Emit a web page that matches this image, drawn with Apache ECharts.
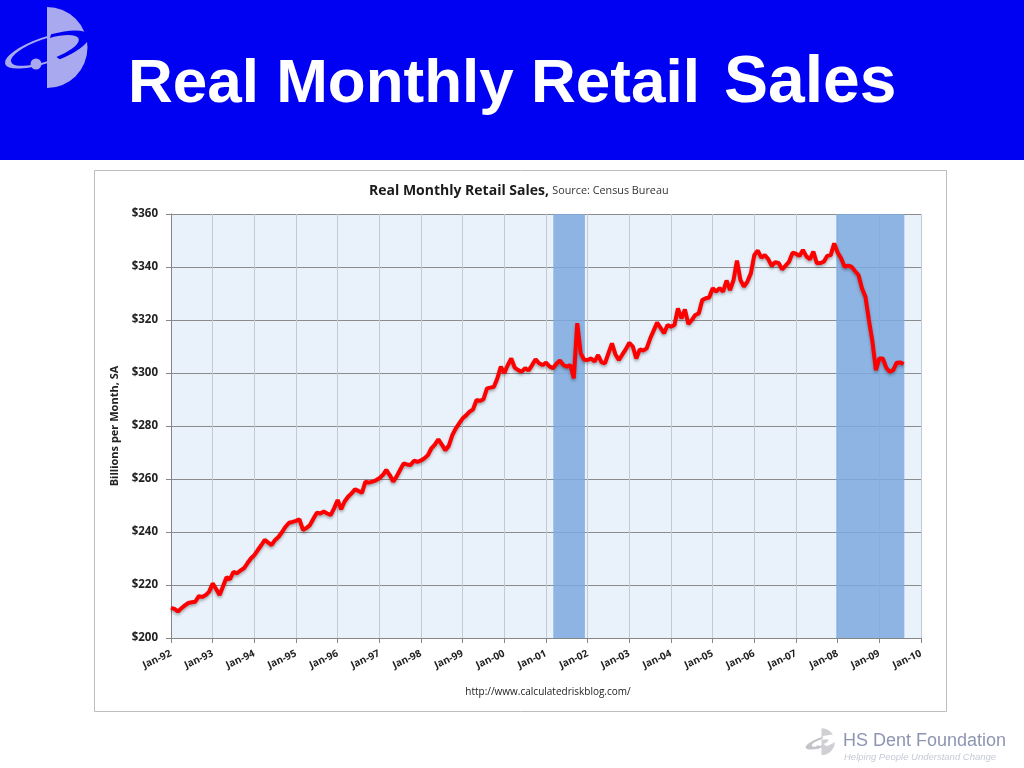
<!DOCTYPE html>
<html>
<head>
<meta charset="utf-8">
<script src="https://cdn.jsdelivr.net/npm/echarts@6/dist/echarts.min.js"></script>
<style>
  html, body { margin: 0; padding: 0; background: #ffffff; }
  #chart { width: 1024px; height: 768px; }
</style>
</head>
<body>
<div id="chart"></div>
<script>
// Tick labels (one per January, month index 0 = Jan-92)
const yearLabels = ['Jan-92','Jan-93','Jan-94','Jan-95','Jan-96','Jan-97','Jan-98','Jan-99','Jan-00',
  'Jan-01','Jan-02','Jan-03','Jan-04','Jan-05','Jan-06','Jan-07','Jan-08','Jan-09','Jan-10'];

// Real monthly retail sales, billions per month SA, Jan-92 .. Aug-09
const retailSales = [
  211.4, 211.0, 210.0, 211.2, 212.3, 213.2, 213.5, 213.7, 215.8, 215.5, 216.2, 217.5, // 1992
  220.6, 218.5, 216.2, 219.5, 222.9, 222.2, 225.0, 224.4, 225.5, 226.3, 228.2, 230.0, // 1993
  231.3, 233.2, 235.0, 237.0, 236.0, 235.1, 237.0, 238.2, 240.0, 242.0, 243.5, 243.8, // 1994
  244.2, 244.8, 240.8, 241.5, 242.6, 245.0, 247.3, 247.0, 247.7, 247.0, 246.4, 249.0, // 1995
  252.1, 248.6, 251.5, 253.3, 254.6, 256.1, 255.5, 254.8, 259.0, 258.6, 259.0, 259.5, // 1996
  260.3, 261.5, 263.4, 261.5, 259.0, 261.0, 263.5, 265.9, 265.5, 265.3, 266.9, 266.5, // 1997
  267.0, 267.8, 269.0, 271.6, 273.0, 275.0, 273.0, 270.9, 272.5, 276.5, 279.0, 281.0, // 1998
  282.9, 284.0, 285.4, 286.3, 289.8, 289.5, 290.1, 294.2, 294.5, 294.8, 298.0, 302.4, // 1999
  300.0, 303.0, 305.5, 302.0, 301.1, 300.5, 301.8, 301.0, 303.0, 305.2, 303.7, 303.0, // 2000
  303.9, 302.5, 301.8, 303.5, 304.7, 303.0, 302.4, 303.0, 298.0, 318.8, 307.4, 305.0, // 2001
  304.9, 305.5, 304.3, 306.8, 304.0, 303.7, 307.5, 311.2, 307.0, 304.9, 307.0, 309.0, // 2002
  311.4, 310.0, 305.5, 308.9, 308.5, 309.3, 313.0, 316.0, 319.0, 317.0, 315.0, 318.1, // 2003
  317.5, 318.1, 324.4, 320.6, 324.0, 318.5, 320.0, 321.9, 322.5, 327.5, 328.2, 328.5, // 2004
  332.0, 330.7, 332.0, 330.7, 334.9, 331.3, 335.0, 342.4, 335.1, 332.6, 334.5, 337.6, // 2005
  344.5, 346.2, 343.5, 344.5, 343.0, 340.4, 341.8, 341.5, 339.1, 340.5, 342.0, 345.4, // 2006
  345.0, 344.2, 346.4, 344.0, 342.9, 345.8, 341.4, 341.5, 342.0, 344.2, 344.5, 348.9, // 2007
  345.5, 343.3, 340.1, 340.5, 340.1, 338.5, 337.0, 332.0, 328.8, 320.0, 312.0, 301.1, // 2008
  305.5, 305.5, 302.0, 300.5, 301.1, 303.9, 304.0, 303.4                              // 2009
];

// Recession periods, as month indexes from Jan-92
const recessions = [[110.1, 119.2], [191.6, 211.2]];

const chart = echarts.init(document.getElementById('chart'), null, { renderer: 'canvas' });

function logo(x, y, s, dColor, ringColor, cutColor) {
  return {
    type: 'group', x: x, y: y, scaleX: s, scaleY: s,
    children: [
      { type: 'arc', x: 46, y: 50, scaleY: 0.3, rotation: 0.33,
        shape: { cx: 0, cy: 0, r: 40, startAngle: 0, endAngle: Math.PI * 2 },
        style: { stroke: ringColor, fill: null, lineWidth: 3.5, strokeNoScale: true } },
      { type: 'sector',
        shape: { cx: 47, cy: 47.5, r: 40.5, r0: 0, startAngle: -Math.PI / 2, endAngle: Math.PI / 2 },
        style: { fill: dColor } },
      { type: 'arc', x: 46, y: 50, scaleY: 0.3, rotation: 0.33,
        shape: { cx: 0, cy: 0, r: 40, startAngle: -1.35, endAngle: 1.35 },
        style: { stroke: cutColor, fill: null, lineWidth: 6, strokeNoScale: true } },
      { type: 'circle', shape: { cx: 36, cy: 64, r: 5.5 }, style: { fill: ringColor } }
    ]
  };
}

const option = {
  animation: false,
  backgroundColor: '#ffffff',
  graphic: [
    { type: 'rect', z: -20, shape: { x: 0, y: 0, width: 1024, height: 160 }, style: { fill: '#0000F2' } },
    logo(0, 0, 1, '#A9A9F0', '#A9A9F0', '#0000F2'),
    { type: 'text', x: 128, y: 85, style: { text: 'Real Monthly Retail', fontFamily: 'Liberation Sans, Arial', fontWeight: 'bold', fontSize: 62, fill: '#ffffff', verticalAlign: 'middle' } },
    { type: 'text', x: 724, y: 84, style: { text: 'Sales', fontFamily: 'Liberation Sans, Arial', fontWeight: 'bold', fontSize: 66, fill: '#ffffff', verticalAlign: 'middle' } },
    { type: 'rect', z: -20, shape: { x: 94.5, y: 170.5, width: 852, height: 541 }, style: { fill: '#ffffff', stroke: '#BDBDBD', lineWidth: 1 } },
    { type: 'text', x: 369, y: 191, style: {
        text: '{a|Real Monthly Retail Sales,} {b|Source: Census Bureau}',
        verticalAlign: 'middle',
        rich: {
          a: { fontFamily: 'Open Sans', fontWeight: 'bold', fontSize: 14, fill: '#1a1a1a' },
          b: { fontFamily: 'Open Sans', fontSize: 10.8, fill: '#333333' }
        } } },
    { type: 'text', x: 548, y: 692, style: { text: 'http://www.calculatedriskblog.com/', fontFamily: 'Open Sans', fontSize: 10, fill: '#222222', align: 'center', verticalAlign: 'middle' } },
    logo(806, 726, 0.33, '#CFCFD4', '#C4C4CA', '#ffffff'),
    { type: 'text', x: 843, y: 741, style: { text: 'HS Dent Foundation', fontFamily: 'Liberation Sans, Arial', fontSize: 18, fill: '#8E95B2', verticalAlign: 'middle' } },
    { type: 'text', x: 844, y: 757, style: { text: 'Helping People Understand Change', fontFamily: 'Liberation Sans, Arial', fontStyle: 'italic', fontSize: 9.5, fill: '#C6CAD6', verticalAlign: 'middle' } }
  ],
  grid: { left: 171, right: 103, top: 214, bottom: 130, show: true, backgroundColor: '#E9F1FA', borderWidth: 0 },
  xAxis: {
    type: 'value', min: 0, max: 216, interval: 12,
    axisLine: { show: true, lineStyle: { color: '#868686', width: 1 } },
    axisTick: { show: true, length: 5, lineStyle: { color: '#868686' } },
    splitLine: { show: true, lineStyle: { color: '#C3CAD3', width: 1 } },
    axisLabel: {
      rotate: 25, margin: 15, fontFamily: 'Open Sans', fontWeight: 'bold', fontSize: 10, color: '#222222',
      formatter: function (v) { return v % 12 === 0 ? yearLabels[v / 12] : ''; }
    }
  },
  yAxis: {
    type: 'value', min: 200, max: 360, interval: 20,
    name: 'Billions per Month, SA', nameLocation: 'middle', nameGap: 49,
    nameTextStyle: { fontFamily: 'Open Sans', fontWeight: 'bold', fontSize: 11, color: '#222222' },
    axisLine: { show: true, lineStyle: { color: '#868686', width: 1 } },
    axisTick: { show: true, length: 5, lineStyle: { color: '#868686' } },
    splitLine: { show: true, lineStyle: { color: '#8C8C8C', width: 1 } },
    axisLabel: { formatter: '${value}', margin: 13, fontFamily: 'Open Sans', fontWeight: 'bold', fontSize: 11.5, color: '#222222' }
  },
  series: [{
    type: 'line',
    data: retailSales.map(function (v, i) { return [i, v]; }),
    symbol: 'none',
    smooth: false,
    lineStyle: { color: '#FF0000', width: 4, shadowColor: 'rgba(0,0,0,0.3)', shadowBlur: 3, shadowOffsetY: 2 },
    markArea: {
      silent: true,
      itemStyle: { color: 'rgba(125,169,222,0.85)' },
      data: recessions.map(function (r) { return [{ xAxis: r[0] }, { xAxis: r[1] }]; })
    }
  }]
};

chart.setOption(option);
</script>
</body>
</html>
